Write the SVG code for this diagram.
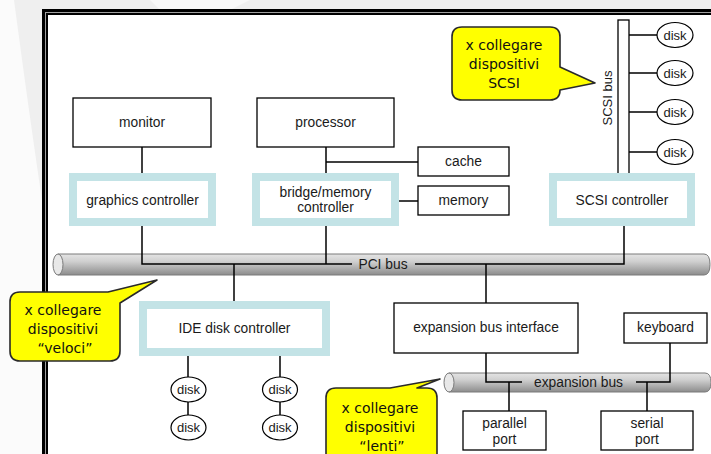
<svg xmlns="http://www.w3.org/2000/svg" width="711" height="454" viewBox="0 0 711 454">
<defs>
<linearGradient id="busg" x1="0" y1="0" x2="0" y2="1">
<stop offset="0" stop-color="#e4e4e4"/>
<stop offset="0.35" stop-color="#d0d0d0"/>
<stop offset="1" stop-color="#8c8c8c"/>
</linearGradient>
<style>
.box{fill:#fff;stroke:#000;stroke-width:1.3}
.ctl{fill:#fff;stroke:#c3e3e6;stroke-width:8}
.t{font-family:"Liberation Sans",Arial,sans-serif;font-size:13.8px;fill:#1a1a1a;text-anchor:middle}
.dt{font-family:"Liberation Sans",Arial,sans-serif;font-size:13px;fill:#1a1a1a;text-anchor:middle}
.disk{fill:#fff;stroke:#000;stroke-width:1.2}
.ln{fill:none;stroke:#000;stroke-width:1.5}
.bus{fill:url(#busg);stroke:#7a7a7a;stroke-width:1}
.cap{fill:#e8e8e8;stroke:#7a7a7a;stroke-width:1}
.call{fill:#ffff00;stroke:#2a2a2a;stroke-width:1.6;stroke-linejoin:round}
.ct{font-family:"DejaVu Sans",Verdana,sans-serif;font-size:14px;fill:#111;text-anchor:middle}
</style>
</defs>
<!-- slide background -->
<rect x="0" y="0" width="711" height="454" fill="#efefef"/>
<path d="M0,0 H14 Q30,120 42,200 V454 H0 Z" fill="#fbfbfb"/>
<path d="M150,0 H250 L230,10 H160 Z" fill="#f8f8f8"/>
<!-- frame -->
<path d="M42,9 H711 V12 H45 V454 H42 Z" fill="#000"/>
<path d="M45,12 H711 V13 H46 V454 H45 Z" fill="#a0a0a0"/>
<path d="M46,13 H711 V15 H48 V454 H46 Z" fill="#000"/>
<rect x="48" y="15" width="663" height="439" fill="#fff"/>

<!-- buses -->
<g id="pci-bus">
<path class="bus" d="M58,254 H704 Q710,254 710,264.5 Q710,275 704,275 H58 Z"/>
<ellipse class="cap" cx="58" cy="264.5" rx="5" ry="10.5"/>
</g>
<g id="expansion-bus">
<path class="bus" d="M449,373 H705 Q711,373 711,382.5 Q711,392 705,392 H449 Z"/>
<ellipse class="cap" cx="449" cy="382.5" rx="5" ry="9.5"/>
</g>
<g id="scsi-bus">
<rect x="618" y="20" width="11" height="160" fill="#fff" stroke="#000" stroke-width="1.3"/>
<text class="dt" transform="translate(612,98) rotate(-90)">SCSI bus</text>
</g>

<!-- connectors -->
<g id="connectors">
<path class="ln" d="M142,147 V173"/>
<path class="ln" d="M326,147 V173"/>
<path class="ln" d="M326,162 H418" stroke="#444" stroke-width="1.2"/>
<path class="ln" d="M399,201 H418"/>
<path class="ln" d="M142,226 V264 H352"/>
<path class="ln" d="M326,226 V264"/>
<path class="ln" d="M415,264 H624 V226"/>
<path class="ln" d="M234,264 V301"/>
<path class="ln" d="M486,264 V303"/>
<path class="ln" d="M629,35 H657 M629,73 H657 M629,112 H657 M629,152 H657"/>
<path class="ln" d="M188,356 V377 M188,402 V415 M280,356 V377 M280,402 V415"/>
<path class="ln" d="M486,353 V382 H522"/>
<path class="ln" d="M636,382 H670 V343"/>
<path class="ln" d="M509,382 V411"/>
<path class="ln" d="M647,382 V411"/>
<text class="t" x="383" y="269">PCI bus</text>
<text class="t" x="578.5" y="387">expansion bus</text>
</g>

<!-- nodes -->
<g id="monitor"><rect class="box" x="73" y="98" width="138" height="49"/><text class="t" x="142" y="127">monitor</text></g>
<g id="processor"><rect class="box" x="257" y="98" width="137" height="49"/><text class="t" x="325.5" y="127">processor</text></g>
<g id="graphics-controller"><rect class="ctl" x="73" y="177" width="139" height="45"/><text class="t" x="142.5" y="205">graphics controller</text></g>
<g id="bridge-memory-controller"><rect class="ctl" x="256" y="177" width="139" height="45"/><text class="t" x="325.5" y="197">bridge/memory</text><text class="t" x="325.5" y="212">controller</text></g>
<g id="cache"><rect class="box" x="418" y="147" width="91" height="29"/><text class="t" x="463.5" y="166">cache</text></g>
<g id="memory"><rect class="box" x="418" y="186" width="91" height="29"/><text class="t" x="463.5" y="205">memory</text></g>
<g id="scsi-controller"><rect class="ctl" x="553" y="177" width="138" height="45"/><text class="t" x="622" y="205">SCSI controller</text></g>
<g id="scsi-disk-1"><ellipse class="disk" cx="675" cy="35" rx="18" ry="12.5"/><text class="dt" x="675" y="39.5">disk</text></g>
<g id="scsi-disk-2"><ellipse class="disk" cx="675" cy="73" rx="18" ry="12.5"/><text class="dt" x="675" y="77.5">disk</text></g>
<g id="scsi-disk-3"><ellipse class="disk" cx="675" cy="112" rx="18" ry="12.5"/><text class="dt" x="675" y="116.5">disk</text></g>
<g id="scsi-disk-4"><ellipse class="disk" cx="675" cy="152" rx="18" ry="12.5"/><text class="dt" x="675" y="156.5">disk</text></g>
<g id="ide-disk-controller"><rect class="ctl" x="143" y="305" width="183" height="47"/><text class="t" x="234.5" y="333">IDE disk controller</text></g>
<g id="ide-disk-1"><ellipse class="disk" cx="188.5" cy="389.5" rx="17.5" ry="12.5"/><text class="dt" x="188.5" y="394">disk</text></g>
<g id="ide-disk-2"><ellipse class="disk" cx="188.5" cy="427.5" rx="17.5" ry="12.5"/><text class="dt" x="188.5" y="432">disk</text></g>
<g id="ide-disk-3"><ellipse class="disk" cx="280" cy="389.5" rx="17.5" ry="12.5"/><text class="dt" x="280" y="394">disk</text></g>
<g id="ide-disk-4"><ellipse class="disk" cx="280" cy="427.5" rx="17.5" ry="12.5"/><text class="dt" x="280" y="432">disk</text></g>
<g id="expansion-bus-interface"><rect class="box" x="394" y="303" width="184" height="50"/><text class="t" x="486" y="332">expansion bus interface</text></g>
<g id="keyboard"><rect class="box" x="624" y="313" width="83" height="30"/><text class="t" x="665.5" y="332">keyboard</text></g>
<g id="parallel-port"><rect class="box" x="463" y="411" width="83" height="39"/><text class="t" x="504.5" y="428">parallel</text><text class="t" x="504.5" y="444">port</text></g>
<g id="serial-port"><rect class="box" x="601" y="411" width="92" height="39"/><text class="t" x="647" y="428">serial</text><text class="t" x="647" y="444">port</text></g>

<!-- callouts -->
<g id="callout-scsi">
<path class="call" d="M462,27 H550 Q560,27 560,37 V67 L595,83 L560,90 Q560,100 550,100 H462 Q452,100 452,90 V37 Q452,27 462,27 Z"/>
<text class="ct" x="504" y="50">x collegare</text><text class="ct" x="504" y="69">dispositivi</text><text class="ct" x="504" y="88">SCSI</text>
</g>
<g id="callout-veloci">
<path class="call" d="M20,292 H108 L157,280 L120,303 V351 Q120,361 110,361 H20 Q10,361 10,351 V302 Q10,292 20,292 Z"/>
<text class="ct" x="63" y="315">x collegare</text><text class="ct" x="63" y="334">dispositivi</text><text class="ct" x="65" y="353">“veloci”</text>
</g>
<g id="callout-lenti">
<path class="call" d="M336,388 H390 L440,379 L417,388 H427 Q437,388 437,398 V470 H326 V398 Q326,388 336,388 Z"/>
<text class="ct" x="380" y="413">x collegare</text><text class="ct" x="380" y="432">dispositivi</text><text class="ct" x="382" y="451">“lenti”</text>
</g>
</svg>
